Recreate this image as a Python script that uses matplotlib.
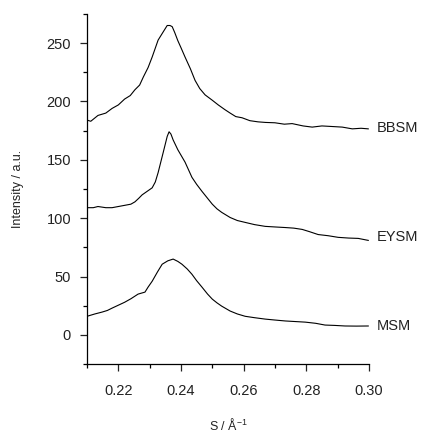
import matplotlib
matplotlib.use('Agg')
import matplotlib.pyplot as plt
from matplotlib.ticker import MultipleLocator

plt.rcParams['font.family'] = ['Liberation Sans', 'DejaVu Sans']
plt.rcParams['mathtext.fontset'] = 'custom'
plt.rcParams['mathtext.rm'] = 'Liberation Sans'
plt.rcParams['mathtext.it'] = 'Liberation Sans:italic'

# curves (S in 1/A, intensity in a.u., already offset)
s_bbsm = [0.2100, 0.2112, 0.2135, 0.2160, 0.2180, 0.2200, 0.2220, 0.2238, 0.2253, 0.2268,
          0.2280, 0.2295, 0.2308, 0.2327, 0.2342, 0.2356, 0.2365, 0.2372, 0.2380, 0.2390,
          0.2400, 0.2413, 0.2430, 0.2445, 0.2460, 0.2477, 0.2500, 0.2519, 0.2540, 0.2557,
          0.2575, 0.2595, 0.2620, 0.2646, 0.2670, 0.2700, 0.2730, 0.2755, 0.2790, 0.2819,
          0.2850, 0.2883, 0.2915, 0.2947, 0.2975, 0.2998]
i_bbsm = [184, 183, 188, 190, 194, 197, 202, 205, 210, 214,
          221, 229, 238, 252.5, 259, 265, 265, 264, 259, 252,
          246, 238, 228, 218, 211, 205.6, 201, 197, 193, 190,
          187, 186, 183.5, 182.5, 182, 181.7, 180.5, 181, 179, 178,
          179, 178.5, 178, 176.5, 177, 176.5]

s_eysm = [0.2100, 0.2120, 0.2135, 0.2160, 0.2180, 0.2200, 0.2220, 0.2240, 0.2253, 0.2265,
          0.2276, 0.2292, 0.2308, 0.2318, 0.2327, 0.2343, 0.2356, 0.2362, 0.2368, 0.2375,
          0.2390, 0.2413, 0.2435, 0.2450, 0.2467, 0.2485, 0.2500, 0.2515, 0.2530, 0.2557,
          0.2580, 0.2605, 0.2635, 0.2669, 0.2700, 0.2733, 0.2760, 0.2787, 0.2810, 0.2838,
          0.2870, 0.2902, 0.2935, 0.2966, 0.2998]
i_eysm = [109, 109, 110, 109, 109, 110, 111, 112, 114, 117,
          120, 123, 126, 131, 139, 156, 170, 174, 172, 167,
          158.6, 148, 135, 129, 123, 117, 112, 108, 105, 100.6,
          98, 96.4, 94.5, 93, 92.5, 92, 91.5, 90.4, 88.5, 86,
          85, 83.6, 83, 82.7, 81]

s_msm = [0.2100, 0.2125, 0.2148, 0.2165, 0.2180, 0.2200, 0.2220, 0.2240, 0.2263, 0.2285,
         0.2295, 0.2308, 0.2325, 0.2340, 0.2358, 0.2375, 0.2390, 0.2403, 0.2420, 0.2435,
         0.2450, 0.2467, 0.2485, 0.2500, 0.2515, 0.2530, 0.2557, 0.2580, 0.2605, 0.2635,
         0.2669, 0.2700, 0.2733, 0.2765, 0.2797, 0.2830, 0.2860, 0.2890, 0.2924, 0.2960,
         0.2998]
i_msm = [16, 18, 19.6, 21, 23, 25.5, 28, 31, 35, 36.7,
         41, 46, 54, 60.6, 63.5, 65, 63, 60.6, 56.5, 52,
         46.5, 41, 35, 30.7, 27.5, 24.7, 20.5, 18, 16, 14.8,
         13.6, 12.8, 12, 11.5, 11, 10, 8.5, 8.2, 7.7, 7.6,
         7.7]

names = ['BBSM', 'EYSM', 'MSM']
label_y = [177, 83.6, 7.7]

txt = '#222222'

fig = plt.figure(figsize=(4.21, 4.32), dpi=100)
ax = fig.add_axes([0.2067, 0.157, 0.6695, 0.811])

for s, i in [(s_bbsm, i_bbsm), (s_eysm, i_eysm), (s_msm, i_msm)]:
    ax.plot(s, i, '-', color='black', linewidth=0.8)

for name, y in zip(names, label_y):
    ax.text(0.3026, y, name, fontsize=10.5, color=txt, va='center', ha='left', clip_on=False)

ax.set_xlim(0.21, 0.30)
ax.set_ylim(-25, 275)
ax.xaxis.set_minor_locator(MultipleLocator(0.01))
ax.yaxis.set_major_locator(MultipleLocator(50))
ax.yaxis.set_minor_locator(MultipleLocator(25))
ax.set_xticks([0.22, 0.24, 0.26, 0.28, 0.30])
ax.set_xticklabels(['0.22', '0.24', '0.26', '0.28', '0.30'])

for side in ['top', 'right']:
    ax.spines[side].set_visible(False)
for side in ['left', 'bottom']:
    ax.spines[side].set_linewidth(0.9)

ax.tick_params(which='major', direction='out', length=5, width=0.9, labelsize=10.5, colors=txt)
ax.tick_params(which='minor', direction='out', length=3, width=0.9)
ax.tick_params(axis='x', which='major', pad=9)
ax.tick_params(axis='y', which='major', pad=6.5)

ax.set_xlabel(r'S / Å$^{-1}$', fontsize=9, color=txt, labelpad=14)
ax.set_ylabel('Intensity / a.u.', fontsize=9, color=txt, labelpad=16)

fig.savefig('out.png', dpi=100)
